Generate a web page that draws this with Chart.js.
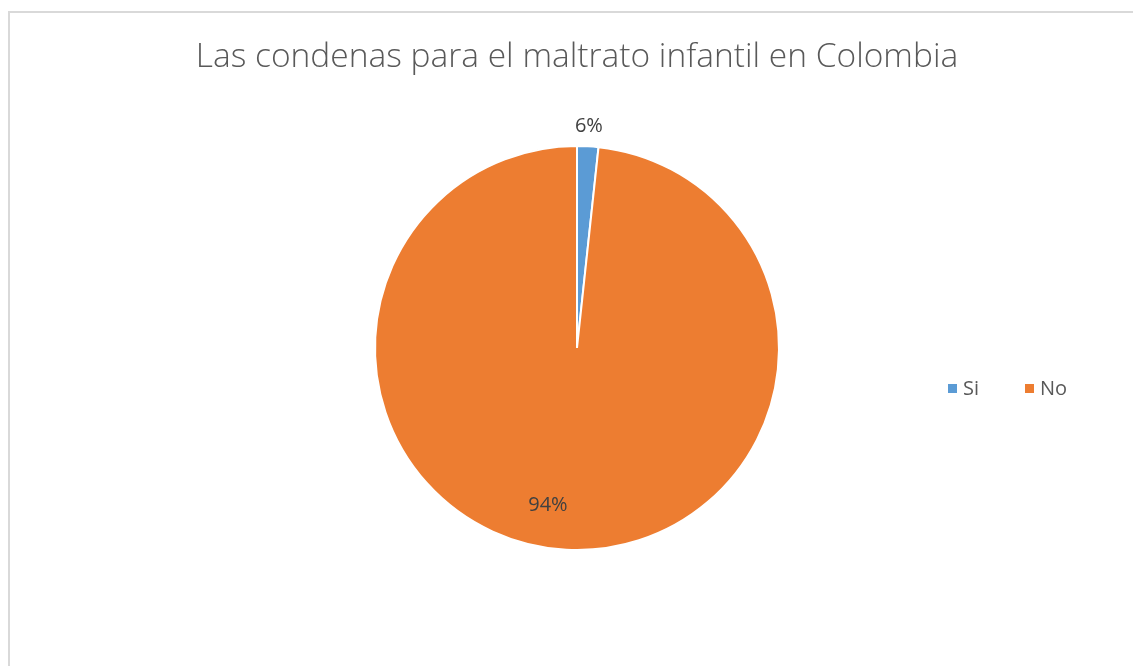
<!DOCTYPE html>
<html>
<head>
<meta charset="utf-8">
<script src="https://cdn.jsdelivr.net/npm/chart.js@4"></script>
<style>
    body { margin: 0; background: #fff; }
    #wrap { position: relative; width: 1133px; height: 666px; }
</style>
</head>
<body>
<div id="wrap"><canvas id="pieChart" width="1133" height="666"></canvas></div>
<script>
// Chart data
const categories = ["Si", "No"];
const sliceValues = [1.7, 98.3];        // share of the circle as drawn
const sliceLabels = ["6%", "94%"];      // labels as printed on the chart
const sliceColors = ["#5b9bd5", "#ed7d31"];
const chartTitle = "Las condenas para el maltrato infantil en Colombia";

// frame, title, value labels and a horizontal legend on the right
const decorations = {
    id: "decorations",
    beforeDraw(chart) {
        const ctx = chart.ctx;
        ctx.save();
        ctx.strokeStyle = "#d9d9d9";
        ctx.lineWidth = 2;
        ctx.beginPath();
        ctx.moveTo(9, 700);
        ctx.lineTo(9, 12);
        ctx.lineTo(1133, 12);
        ctx.stroke();

        ctx.fillStyle = "#595959";
        ctx.font = "300 33.5px 'Open Sans'";
        ctx.textAlign = "center";
        ctx.textBaseline = "middle";
        ctx.fillText(chartTitle, 577, 57);
        ctx.restore();
    },
    afterDraw(chart) {
        const ctx = chart.ctx;
        const arcs = chart.getDatasetMeta(0).data;
        // radius factor and angle shift for each value label
        const place = [{ r: 1.1, da: 0 }, { r: 0.79, da: 0.13 }];
        ctx.save();
        ctx.fillStyle = "#404040";
        ctx.font = "20px 'Open Sans'";
        ctx.textAlign = "center";
        ctx.textBaseline = "middle";
        arcs.forEach((arc, i) => {
            const mid = (arc.startAngle + arc.endAngle) / 2 + place[i].da;
            const r = arc.outerRadius * place[i].r;
            ctx.fillText(sliceLabels[i], arc.x + Math.cos(mid) * r, arc.y + Math.sin(mid) * r);
        });

        // legend
        ctx.font = "20px 'Open Sans'";
        ctx.textAlign = "left";
        let x = 948;
        categories.forEach((name, i) => {
            ctx.fillStyle = sliceColors[i];
            ctx.fillRect(x, 384, 9, 9);
            ctx.fillStyle = "#595959";
            ctx.fillText(name, x + 15, 389);
            x += 77;
        });
        ctx.restore();
    }
};

new Chart(document.getElementById("pieChart").getContext("2d"), {
    type: "pie",
    data: {
        labels: categories,
        datasets: [{
            data: sliceValues,
            backgroundColor: sliceColors,
            borderColor: "#ffffff",
            borderWidth: 2
        }]
    },
    options: {
        responsive: false,
        animation: false,
        layout: { padding: { left: 300, right: 279, top: 145, bottom: 115 } },
        plugins: {
            legend: { display: false },
            tooltip: { enabled: false },
            title: { display: false }
        }
    },
    plugins: [decorations]
});
</script>
</body>
</html>
